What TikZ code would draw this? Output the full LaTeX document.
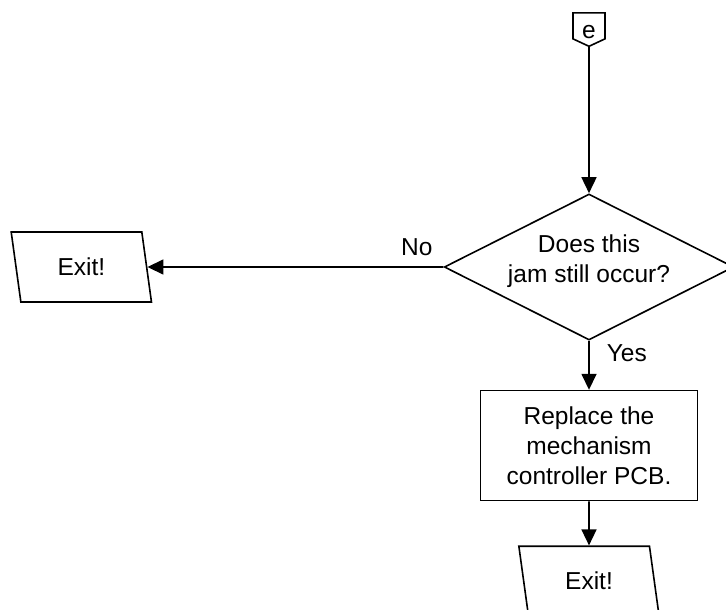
\documentclass[tikz,border=0pt]{standalone}
\usepackage{fontspec}
\setmainfont{Liberation Sans}
\usetikzlibrary{shapes.geometric, shapes.symbols, arrows.meta, positioning}
\tikzset{
  decision/.style = {diamond, draw, line width=1.6pt, aspect=2,
                     minimum width=287pt, minimum height=146pt, inner sep=0pt,
                     align=center, text depth=16pt},
  action/.style   = {rectangle, draw, line width=1.6pt,
                     minimum width=217pt, minimum height=110pt, align=center},
  exitbox/.style  = {trapezium, trapezium left angle=100, trapezium right angle=80,
                     trapezium stretches=true, draw, line width=1.6pt,
                     minimum width=141pt, minimum height=70pt},
  offpage/.style  = {signal, signal to=south, signal pointer angle=130, draw,
                     line width=1.6pt, minimum width=32pt, minimum height=28pt,
                     inner sep=0pt, text height=26pt, text depth=0pt},
  flow/.style     = {-{Triangle[length=16pt, width=15pt]}, line width=1.6pt},
  lbl/.style      = {inner sep=3pt},
}
\begin{document}
\begin{tikzpicture}[font=\fontsize{24.5}{30}\selectfont]
  \useasboundingbox (0pt,0pt) rectangle (726pt,-610pt);

  \node[decision] (dec) at (589pt,-267pt) {Does this\\jam still occur?};
  \node[offpage, above=146pt of dec] (conn) {e};
  \node[action, below=49pt of dec] (repl) {Replace the\\mechanism\\controller PCB.};
  \node[exitbox, below=44pt of repl] (exitB) {Exit!};
  \node[exitbox, left=296pt of dec] (exitL) {Exit!};

  \draw[flow] (conn) -- (dec);
  \draw[flow] (dec) -- node[lbl, above=7pt, pos=0.09] {No} (exitL);
  \draw[flow] (dec) -- node[lbl, right=14pt, pos=0.26] {Yes} (repl);
  \draw[flow] (repl) -- (exitB);
\end{tikzpicture}
\end{document}
